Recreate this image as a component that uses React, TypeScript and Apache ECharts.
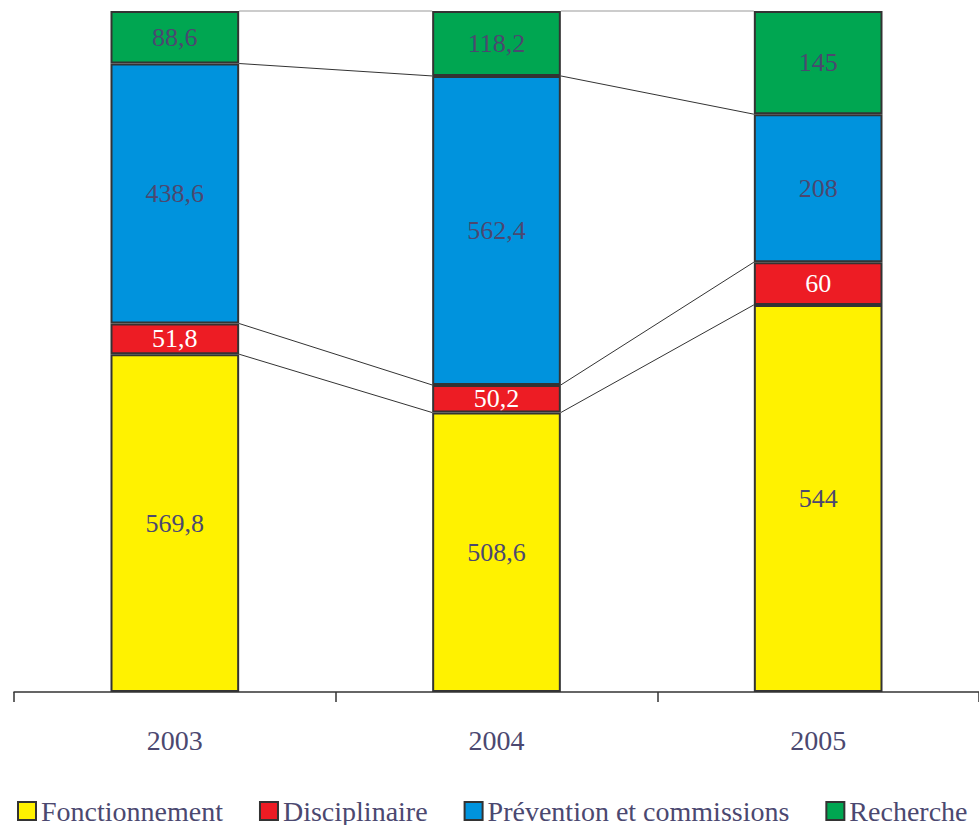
import React, { useEffect, useRef } from "react";
import * as echarts from "echarts";

const categories = ["2003", "2004", "2005"];
const fonctionnement = [569.8, 508.6, 544];
const disciplinaire = [51.8, 50.2, 60];
const prevention = [438.6, 562.4, 208];
const recherche = [88.6, 118.2, 145];

const seriesNames = ["Fonctionnement", "Disciplinaire", "Prévention et commissions", "Recherche"];
const seriesColors = ["#FFF200", "#ED1C24", "#0093DD", "#00A651"];
const labelColors = ["#4b4870", "#ffffff", "#4b4870", "#4b4870"];

const FONT = "'Liberation Serif', 'Times New Roman', serif";

export default function App() {
  const ref = useRef<HTMLDivElement>(null);
  useEffect(() => {
    if (!ref.current) return;
    const chart = echarts.init(ref.current, null, { renderer: "svg" });
    const raw = [fonctionnement, disciplinaire, prevention, recherche];
    const totals = categories.map((_, i) => raw.reduce((s, a) => s + a[i], 0));
    const pct = raw.map((arr) => arr.map((v, i) => (v / totals[i]) * 100));
    const cum = categories.map((_, i) => {
      let s = 0;
      return pct.map((arr) => (s += arr[i]));
    });
    const lineData = categories.slice(0, -1).map((_, i) => [i, ...cum[i], ...cum[i + 1]]);

    const barSeries = raw.map((arr, k) => ({
      name: seriesNames[k],
      type: "bar",
      stack: "total",
      barWidth: "40%",
      data: pct[k],
      itemStyle: { color: seriesColors[k], borderColor: "#333333", borderWidth: 2 },
      label: {
        show: true,
        position: "inside",
        color: labelColors[k],
        fontFamily: FONT,
        fontSize: 26,
        formatter: (p: any) => String(arr[p.dataIndex]).replace(".", ","),
      },
    }));

    const option: any = {
      animation: false,
      grid: { left: 14, right: 0, top: 11, bottom: 133 },
      xAxis: {
        type: "category",
        data: categories,
        axisLine: { lineStyle: { color: "#333333", width: 1.5 } },
        axisTick: { show: true, length: 10, lineStyle: { color: "#333333", width: 1.5 } },
        axisLabel: { color: "#4b4870", fontFamily: FONT, fontSize: 28, margin: 34 },
      },
      yAxis: { type: "value", min: 0, max: 100, show: false, splitLine: { show: false } },
      legend: {
        data: seriesNames,
        left: 12,
        top: 792,
        width: 975,
        itemWidth: 18,
        itemHeight: 18,
        itemGap: 36,
        icon: "rect",
        itemStyle: { borderColor: "#333333", borderWidth: 2 },
        textStyle: { color: "#4b4870", fontFamily: FONT, fontSize: 28, lineHeight: 28 },
      },
      series: [
        ...barSeries,
        {
          type: "custom",
          silent: true,
          z: 1,
          data: lineData,
          encode: { x: 0, y: 1 },
          renderItem: (params: any, api: any) => {
            const i = api.value(0);
            const band = api.size([1, 0])[0];
            const hw = band * 0.2;
            const children: any[] = [];
            for (let k = 0; k < 4; k++) {
              const a = api.value(1 + k);
              const b = api.value(5 + k);
              const p1 = api.coord([i, a]);
              const p2 = api.coord([i + 1, b]);
              children.push({
                type: "line",
                shape: { x1: p1[0] + hw, y1: p1[1], x2: p2[0] - hw, y2: p2[1] },
                style: { stroke: k === 3 ? "#999999" : "#333333", lineWidth: 1 },
              });
            }
            return { type: "group", children };
          },
        },
      ],
    };
    chart.setOption(option);
    return () => chart.dispose();
  }, []);
  return <div ref={ref} style={{ width: 979, height: 825, position: "absolute", left: 0, top: 0 }} />;
}
